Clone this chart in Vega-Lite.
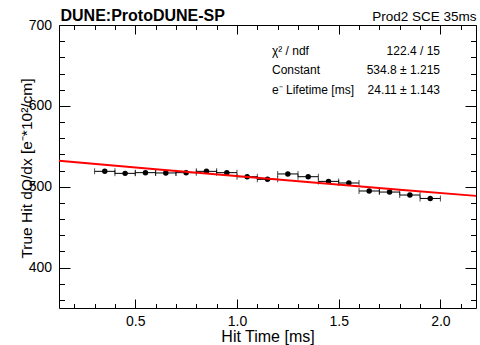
{
  "$schema": "https://vega.github.io/schema/vega-lite/v6.json",
  "width": 417,
  "height": 283,
  "autosize": "none",
  "padding": {"left": 59, "top": 25, "right": 4, "bottom": 37},
  "background": "white",
  "config": {
    "view": {"stroke": null},
    "font": "Liberation Sans",
    "axis": {
      "grid": false,
      "domainColor": "black",
      "domainWidth": 1,
      "tickColor": "black",
      "tickWidth": 1,
      "labelColor": "black",
      "titleColor": "black",
      "labelFont": "Liberation Sans",
      "titleFont": "Liberation Sans",
      "titleFontWeight": "normal"
    }
  },
  "datasets": {
    "points": [
      {"t": 0.35, "lo": 0.3, "hi": 0.4, "q": 519.0},
      {"t": 0.45, "lo": 0.4, "hi": 0.5, "q": 516.5},
      {"t": 0.55, "lo": 0.5, "hi": 0.6, "q": 517.4},
      {"t": 0.65, "lo": 0.6, "hi": 0.7, "q": 517.0},
      {"t": 0.75, "lo": 0.7, "hi": 0.8, "q": 517.4},
      {"t": 0.85, "lo": 0.8, "hi": 0.9, "q": 519.0},
      {"t": 0.95, "lo": 0.9, "hi": 1.0, "q": 517.4},
      {"t": 1.05, "lo": 1.0, "hi": 1.1, "q": 512.4},
      {"t": 1.15, "lo": 1.1, "hi": 1.2, "q": 509.1},
      {"t": 1.25, "lo": 1.2, "hi": 1.3, "q": 515.8},
      {"t": 1.35, "lo": 1.3, "hi": 1.4, "q": 512.4},
      {"t": 1.45, "lo": 1.4, "hi": 1.5, "q": 506.6},
      {"t": 1.55, "lo": 1.5, "hi": 1.6, "q": 504.6},
      {"t": 1.65, "lo": 1.6, "hi": 1.7, "q": 494.7},
      {"t": 1.75, "lo": 1.7, "hi": 1.8, "q": 493.4},
      {"t": 1.85, "lo": 1.8, "hi": 1.9, "q": 489.7},
      {"t": 1.95, "lo": 1.9, "hi": 2.0, "q": 485.5}
    ],
    "fit": [
      {"t": 0.125, "f": 532.03},
      {"t": 0.6, "f": 521.65},
      {"t": 1.2, "f": 508.83},
      {"t": 1.8, "f": 496.33},
      {"t": 2.175, "f": 488.67}
    ]
  },
  "resolve": {"axis": {"x": "independent", "y": "independent"}},
  "layer": [
    {
      "data": {"name": "points"},
      "mark": {"type": "rule", "color": "black", "strokeWidth": 1},
      "encoding": {
        "x": {
          "field": "lo", "type": "quantitative",
          "scale": {"domain": [0.125, 2.175], "nice": false, "zero": false},
          "axis": {
            "orient": "bottom", "values": [0.5, 1.0, 1.5, 2.0], "format": ".1f",
            "ticks": false, "tickSize": 0, "labelPadding": 6, "labelFontSize": 14,
            "domain": true,
            "title": "Hit Time [ms]", "titleFontSize": 16,
            "titleX": 208.5, "titleY": 33, "titleAlign": "center", "titleBaseline": "alphabetic"
          }
        },
        "x2": {"field": "hi"},
        "y": {
          "field": "q", "type": "quantitative",
          "scale": {"domain": [350, 700], "nice": false, "zero": false},
          "axis": {
            "orient": "left", "values": [400, 500, 600, 700], "format": "d",
            "ticks": false, "tickSize": 0, "labelPadding": 7.5, "labelFontSize": 14,
            "domain": true,
            "title": "True Hit dQ/dx [e⁻*10²/cm]", "titleFontSize": 15.5,
            "titleAngle": -90, "titleX": -28, "titleY": 143,
            "titleAlign": "center", "titleBaseline": "alphabetic"
          }
        }
      }
    },
    {
      "data": {"name": "points"},
      "mark": {"type": "tick", "orient": "vertical", "size": 6, "thickness": 1, "color": "black"},
      "encoding": {
        "x": {
          "field": "lo", "type": "quantitative",
          "scale": {"domain": [0.125, 2.175], "nice": false, "zero": false},
          "axis": {
            "orient": "top", "values": [0.5, 1.0, 1.5, 2.0], "labels": false,
            "ticks": false, "domain": true,
            "title": "DUNE:ProtoDUNE-SP", "titleFontSize": 16, "titleFontWeight": "bold",
            "titleX": 1, "titleY": -5, "titleAlign": "left", "titleBaseline": "alphabetic"
          }
        },
        "y": {
          "field": "q", "type": "quantitative",
          "scale": {"domain": [350, 700], "nice": false, "zero": false},
          "axis": {
            "orient": "right", "values": [400, 500, 600, 700], "labels": false,
            "ticks": false, "domain": true, "title": null
          }
        }
      }
    },
    {
      "data": {"name": "points"},
      "mark": {"type": "tick", "orient": "vertical", "size": 6, "thickness": 1, "color": "black"},
      "encoding": {
        "x": {
          "field": "hi", "type": "quantitative",
          "scale": {"domain": [0.125, 2.175], "nice": false, "zero": false},
          "axis": {
            "orient": "top", "offset": -283, "values": [0.5, 1.0, 1.5, 2.0],
            "labels": false, "tickSize": 9, "domain": false, "title": null
          }
        },
        "y": {
          "field": "q", "type": "quantitative",
          "scale": {"domain": [350, 700], "nice": false, "zero": false},
          "axis": {
            "orient": "right", "offset": -417, "values": [400, 500, 600, 700],
            "labels": false, "tickSize": 11, "domain": false, "title": null
          }
        }
      }
    },
    {
      "data": {"name": "points"},
      "mark": {"type": "circle", "color": "black", "opacity": 1, "size": 30},
      "encoding": {
        "x": {
          "field": "t", "type": "quantitative",
          "scale": {"domain": [0.125, 2.175], "nice": false, "zero": false},
          "axis": {
            "orient": "top", "offset": -283,
            "values": [0.2, 0.3, 0.4, 0.6, 0.7, 0.8, 0.9, 1.1, 1.2, 1.3, 1.4, 1.6, 1.7, 1.8, 1.9, 2.1],
            "labels": false, "tickSize": 4.5, "domain": false, "title": null
          }
        },
        "y": {
          "field": "q", "type": "quantitative",
          "scale": {"domain": [350, 700], "nice": false, "zero": false},
          "axis": {
            "orient": "right", "offset": -417,
            "values": [360, 380, 420, 440, 460, 480, 520, 540, 560, 580, 620, 640, 660, 680],
            "labels": false, "tickSize": 5.5, "domain": false, "title": null
          }
        }
      }
    },
    {
      "data": {"name": "fit"},
      "mark": {"type": "line", "color": "#ff0000", "strokeWidth": 2},
      "encoding": {
        "x": {
          "field": "t", "type": "quantitative",
          "scale": {"domain": [0.125, 2.175], "nice": false, "zero": false},
          "axis": {
            "orient": "bottom", "offset": -283, "values": [0.5, 1.0, 1.5, 2.0],
            "labels": false, "tickSize": 9, "domain": false,
            "title": "Prod2 SCE 35ms", "titleFontSize": 13.5,
            "titleX": 417, "titleY": -5, "titleAlign": "right", "titleBaseline": "alphabetic"
          }
        },
        "y": {
          "field": "f", "type": "quantitative",
          "scale": {"domain": [350, 700], "nice": false, "zero": false},
          "axis": {
            "orient": "left", "offset": -417, "values": [400, 500, 600, 700],
            "labels": false, "tickSize": 11, "domain": false, "title": null
          }
        }
      }
    },
    {
      "data": {"values": [{}]},
      "mark": {
        "type": "text", "align": "left", "baseline": "alphabetic",
        "fontSize": 12, "lineHeight": 19.5, "color": "black", "font": "Liberation Sans",
        "text": ["χ² / ndf", "Constant", "e⁻ Lifetime [ms]"]
      },
      "encoding": {
        "x": {
          "datum": 1.172, "type": "quantitative",
          "scale": {"domain": [0.125, 2.175], "nice": false, "zero": false},
          "axis": {
            "orient": "bottom", "offset": -283,
            "values": [0.2, 0.3, 0.4, 0.6, 0.7, 0.8, 0.9, 1.1, 1.2, 1.3, 1.4, 1.6, 1.7, 1.8, 1.9, 2.1],
            "labels": false, "tickSize": 4.5, "domain": false, "title": null
          }
        },
        "y": {
          "datum": 662.9, "type": "quantitative",
          "scale": {"domain": [350, 700], "nice": false, "zero": false},
          "axis": {
            "orient": "left", "offset": -417,
            "values": [360, 380, 420, 440, 460, 480, 520, 540, 560, 580, 620, 640, 660, 680],
            "labels": false, "tickSize": 5.5, "domain": false, "title": null
          }
        }
      }
    },
    {
      "data": {"values": [{}]},
      "mark": {
        "type": "text", "align": "right", "baseline": "alphabetic",
        "fontSize": 12, "lineHeight": 19.5, "color": "black", "font": "Liberation Sans",
        "text": ["122.4 / 15", "534.8 ± 1.215", "24.11 ± 1.143"]
      },
      "encoding": {
        "x": {"datum": 1.998, "type": "quantitative", "scale": {"domain": [0.125, 2.175], "nice": false, "zero": false}, "axis": null},
        "y": {"datum": 662.9, "type": "quantitative", "scale": {"domain": [350, 700], "nice": false, "zero": false}, "axis": null}
      }
    }
  ]
}
